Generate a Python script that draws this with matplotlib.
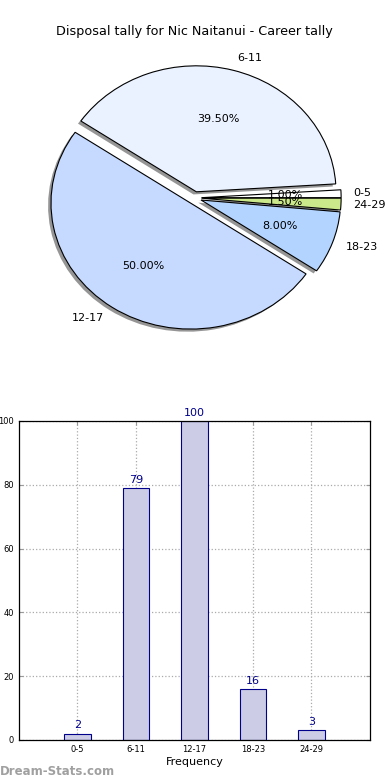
import matplotlib
matplotlib.use("Agg")
import matplotlib.pyplot as plt

categories = ["0-5", "6-11", "12-17", "18-23", "24-29"]
counts = [2, 79, 100, 16, 3]
pie_colors = ["#FFFFFF", "#EBF2FF", "#C6D9FF", "#B3D4FF", "#CBE88A"]
title = "Disposal tally for Nic Naitanui - Career tally"

fig = plt.figure(figsize=(3.9, 7.8), dpi=100)

# Pie (elliptical, as in the original)
ax1 = fig.add_axes([0.0513, 0.5444, 0.895, 0.4038])
wedges, texts, autotexts = ax1.pie(
    counts, labels=categories, colors=pie_colors, explode=[0.05] * len(counts),
    autopct="%1.2f%%", startangle=0,
    shadow=dict(ox=-0.015, oy=-0.015, facecolor="#8A8A8A", edgecolor="none", alpha=0.9),
    wedgeprops=dict(edgecolor="black", linewidth=0.8),
    textprops=dict(fontsize=8))
ax1.set_aspect("auto")
ax1.set_xlim(-1.25, 1.25)
ax1.set_ylim(-1.25, 1.25)
ax1.set_title(title, fontsize=9.2, pad=4)
for t in texts:
    if t.get_text() in ("0-5", "24-29"):
        t.set_x(t.get_position()[0] - 0.01)

# Bar chart
ax2 = fig.add_axes([0.0487, 0.0513, 0.9, 0.409])
x = list(range(len(categories)))
ax2.bar(x, counts, width=0.45, color="#CCCCE6", edgecolor="#00008B", linewidth=0.8, zorder=2)
for xi, c in zip(x, counts):
    ax2.text(xi, c + 1.0, str(c), ha="center", va="bottom", fontsize=8, color="#00008B")
ax2.set_xlim(-1, 5)
ax2.set_ylim(0, 100)
ax2.set_xticks(x)
ax2.set_xticklabels(categories, fontsize=6)
ax2.set_yticks([0, 20, 40, 60, 80, 100])
ax2.set_yticklabels(["0", "20", "40", "60", "80", "100"], fontsize=6)
ax2.tick_params(direction="in", top=True, right=True, length=3, color="#999999")
ax2.grid(True, linestyle=":", color="#AAAAAA", linewidth=0.9, zorder=0)
ax2.set_xlabel("Frequency", fontsize=8, labelpad=2)
for s in ax2.spines.values():
    s.set_linewidth(0.9)

fig.text(0.0, 0.006, "Dream-Stats.com", fontsize=8.5, color="#A0A0A0", weight="bold")

fig.savefig("out.png", dpi=100)
